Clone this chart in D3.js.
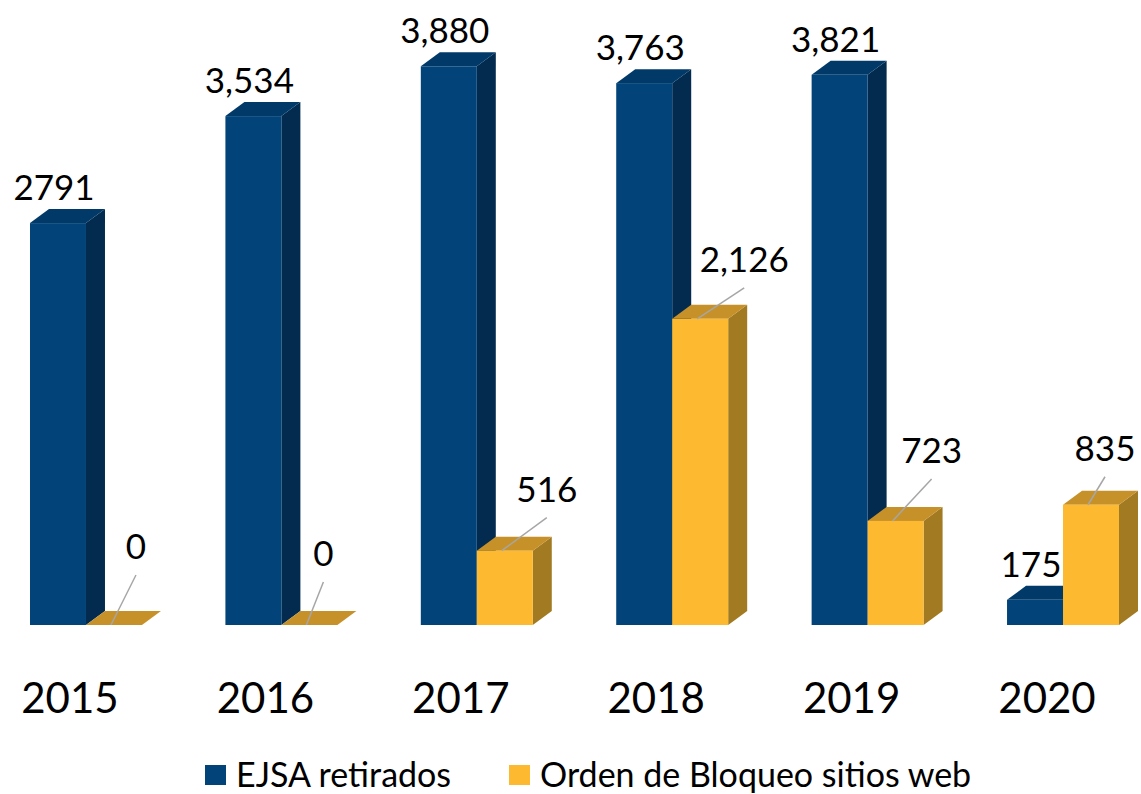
<!DOCTYPE html>
<html>
<head>
<meta charset="utf-8">
<script src="https://cdn.jsdelivr.net/npm/d3@7"></script>
<style>
	body { margin: 0; background: #fff; }
	svg { display: block; font-family: Lato, "Open Sans", sans-serif; }
</style>
</head>
<body>
<div id="chart"></div>
<script>
// Data
var years = ["2015", "2016", "2017", "2018", "2019", "2020"];
var ejsa = [2791, 3534, 3880, 3763, 3821, 175];
var bloqueo = [0, 0, 516, 2126, 723, 835];
var ejsaText = ["2791", "3,534", "3,880", "3,763", "3,821", "175"];
var seriesNames = ["EJSA retirados", "Orden de Bloqueo sitios web"];
// Leader line nudges for the yellow labels (dx, dy from bar top)
var leaderNudge = [[25, -50], [17, -43], [45, -33], [47, -31], [39, -42], [17, -28]];

var width = 1141;
var height = 794;
var depthX = 19, depthY = 14;

// colours: front, top, side
var blue = {front: "#024479", top: "#013a68", side: "#022b4f"};
var gold = {front: "#fdb92f", top: "#c79129", side: "#a17a21"};

var svg = d3.select("#chart").append("svg")
	.attr("width", width)
	.attr("height", height);

svg.append("rect").attr("width", width).attr("height", height).attr("fill", "#fff");

// Scales
var x = d3.scaleBand()
	.domain(years)
	.range([30, 1119])
	.paddingInner(0.427)
	.paddingOuter(0);

var xs = d3.scaleBand()
	.domain(seriesNames)
	.range([0, x.bandwidth()]);

var y = d3.scaleLinear()
	.domain([0, 4000])
	.range([625, 49]);

// Draw one 3d bar
function bar3d(g, x0, w, v, c) {
	var yt = y(v), yb = y(0);
	// side
	g.append("path")
		.attr("d", "M" + (x0 + w) + "," + yb + "L" + (x0 + w) + "," + yt +
			"L" + (x0 + w + depthX) + "," + (yt - depthY) +
			"L" + (x0 + w + depthX) + "," + (yb - depthY) + "Z")
		.attr("fill", c.side);
	// top
	g.append("path")
		.attr("d", "M" + x0 + "," + yt + "L" + (x0 + w) + "," + yt +
			"L" + (x0 + w + depthX) + "," + (yt - depthY) +
			"L" + (x0 + depthX) + "," + (yt - depthY) + "Z")
		.attr("fill", c.top);
	// front
	g.append("rect")
		.attr("x", x0)
		.attr("y", yt)
		.attr("width", w)
		.attr("height", yb - yt)
		.attr("fill", c.front);
}

var groups = svg.append("g").selectAll("g")
	.data(years)
	.enter().append("g");

groups.each(function(d, i) {
	var g = d3.select(this);
	var gx = x(d);
	var w = xs.bandwidth();
	bar3d(g, gx + xs(seriesNames[0]), w, ejsa[i], blue);
	bar3d(g, gx + xs(seriesNames[1]), w, bloqueo[i], gold);
});

// Blue value labels
svg.append("g").selectAll("text")
	.data(years)
	.enter().append("text")
	.attr("x", function(d) { return x(d) + xs(seriesNames[0]) + xs.bandwidth() / 2 - 4; })
	.attr("y", function(d, i) { return y(ejsa[i]) - 23; })
	.attr("text-anchor", "middle")
	.attr("font-size", 35)
	.attr("fill", "#000")
	.text(function(d, i) { return ejsaText[i]; });

// Yellow labels with leader lines
var fmt = d3.format(",");
years.forEach(function(d, i) {
	var x0 = x(d) + xs(seriesNames[1]) + 25;
	var y0 = y(bloqueo[i]);
	var x1 = x0 + leaderNudge[i][0];
	var y1 = y0 + leaderNudge[i][1];
	svg.append("line")
		.attr("x1", x0).attr("y1", y0)
		.attr("x2", x1).attr("y2", y1)
		.attr("stroke", "#a6a6a6")
		.attr("stroke-width", 1.5);
	svg.append("text")
		.attr("x", x1)
		.attr("y", y1 - 16)
		.attr("text-anchor", "middle")
		.attr("font-size", 35)
		.attr("fill", "#000")
		.text(fmt(bloqueo[i]));
});

// Category labels
svg.append("g").selectAll("text")
	.data(years)
	.enter().append("text")
	.attr("x", function(d) { return x(d) + x.bandwidth() / 2 - 16; })
	.attr("y", 713)
	.attr("text-anchor", "middle")
	.attr("font-size", 42)
	.attr("fill", "#000")
	.text(function(d) { return d; });

// Legend
var legend = svg.append("g");
var legendX = [205, 509];
var legendCol = [blue.front, gold.front];
seriesNames.forEach(function(s, i) {
	legend.append("rect")
		.attr("x", legendX[i])
		.attr("y", 765)
		.attr("width", 21)
		.attr("height", 20)
		.attr("fill", legendCol[i]);
	legend.append("text")
		.attr("x", legendX[i] + 31)
		.attr("y", 787)
		.attr("font-size", 34)
		.attr("fill", "#000")
		.text(s);
});
</script>
</body>
</html>
